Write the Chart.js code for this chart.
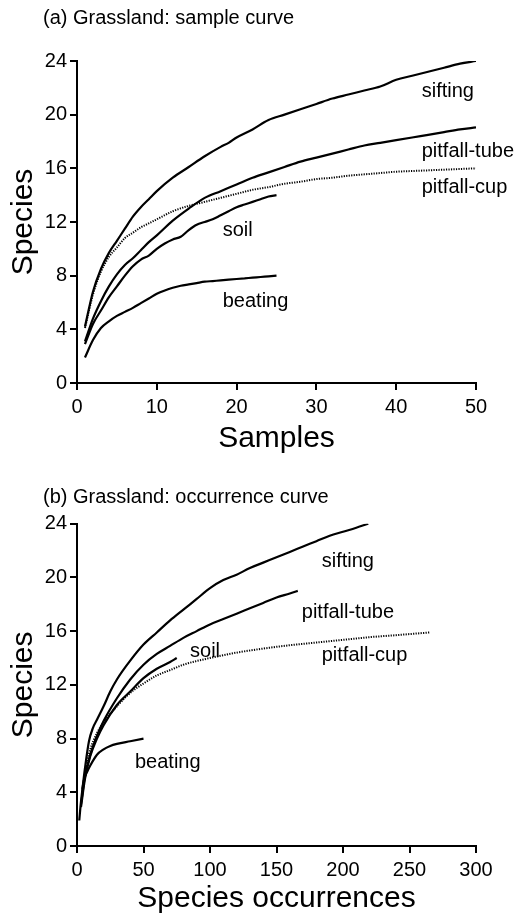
<!DOCTYPE html>
<html>
<head>
<meta charset="utf-8">
<script src="https://cdn.jsdelivr.net/npm/chart.js@4/dist/chart.umd.min.js"></script>
<style>
  html, body { margin: 0; padding: 0; background: #fff; }
  #wrap { position: relative; width: 521px; height: 917px; overflow: hidden; }
  .panel { position: absolute; left: 0; width: 521px; }
</style>
</head>
<body>
<div id="wrap">
  <div class="panel" style="top:0;height:458px;"><canvas id="c1" width="521" height="458"></canvas></div>
  <div class="panel" style="top:458px;height:459px;"><canvas id="c2" width="521" height="459"></canvas></div>
</div>
<script>
// ---------- DATA: (a) sample curve (x = samples, y = species) ----------
const sampleSifting = [[1,4.2],[2,6.8],[3,8.5],[4,9.7],[5,10.6],[6,11.5],[7,12.4],[8,13.1],[9,13.7],[10,14.3],[12,15.3],[14,16.1],[16,16.9],[18,17.6],[19,17.9],[20,18.3],[22,18.9],[24,19.6],[26,20.0],[28,20.4],[30,20.8],[32,21.2],[34,21.5],[36,21.8],[38,22.1],[40,22.6],[42,22.9],[44,23.2],[46,23.5],[48,23.8],[50,24.0]];
const samplePitfallTube = [[1,3.1],[2,4.8],[3,6.1],[4,7.2],[5,8.1],[6,8.8],[7,9.3],[8,9.9],[9,10.5],[10,11.0],[12,12.1],[14,13.0],[16,13.8],[18,14.3],[20,14.8],[22,15.3],[24,15.7],[26,16.1],[28,16.5],[30,16.8],[32,17.1],[34,17.4],[36,17.7],[38,17.9],[40,18.1],[42,18.3],[44,18.5],[46,18.7],[48,18.9],[50,19.05]];
const samplePitfallCup = [[1,4.1],[2,6.6],[3,8.3],[4,9.4],[5,10.1],[6,10.8],[7,11.2],[8,11.6],[9,11.9],[10,12.2],[12,12.8],[14,13.2],[16,13.5],[18,13.8],[20,14.1],[22,14.4],[24,14.6],[26,14.85],[28,15.0],[30,15.2],[32,15.3],[34,15.45],[36,15.55],[38,15.65],[40,15.75],[42,15.8],[44,15.85],[46,15.9],[48,15.95],[50,16.0]];
const sampleSoil = [[1,2.9],[2,4.4],[3,5.4],[4,6.4],[5,7.2],[6,8.0],[7,8.7],[8,9.2],[9,9.5],[10,10.0],[11,10.4],[12,10.7],[13,10.9],[14,11.4],[15,11.8],[16,12.0],[17,12.2],[18,12.5],[19,12.8],[20,13.1],[21,13.3],[22,13.5],[23,13.7],[24,13.9],[25,14.0]];
const sampleBeating = [[1,1.9],[2,3.2],[3,4.1],[4,4.6],[5,5.0],[6,5.3],[7,5.6],[8,5.95],[9,6.3],[10,6.65],[11,6.9],[12,7.1],[13,7.25],[14,7.35],[15,7.45],[16,7.55],[17,7.6],[18,7.65],[19,7.7],[20,7.75],[21,7.8],[22,7.85],[23,7.9],[24,7.95],[25,8.0]];

// ---------- DATA: (b) occurrence curve (x = species occurrences, y = species) ----------
const occSifting = [[4,4.2],[6,5.8],[9,7.8],[12,8.8],[15,9.4],[20,10.4],[25,11.5],[30,12.4],[40,13.8],[50,15.0],[60,15.9],[70,16.8],[80,17.6],[90,18.4],[100,19.2],[110,19.8],[120,20.2],[130,20.7],[140,21.1],[150,21.5],[160,21.9],[170,22.3],[180,22.7],[190,23.1],[200,23.4],[210,23.7],[219,24.0]];
const occPitfallTube = [[3,3.1],[6,5.2],[10,6.8],[15,8.2],[20,9.3],[30,11.0],[40,12.4],[50,13.5],[60,14.3],[70,14.9],[80,15.5],[90,16.0],[100,16.5],[110,16.9],[120,17.3],[130,17.7],[140,18.1],[150,18.5],[160,18.8],[166,19.0]];
const occPitfallCup = [[4,4.1],[7,6.0],[10,7.2],[15,8.4],[20,9.2],[30,10.4],[40,11.4],[50,12.1],[60,12.7],[70,13.1],[80,13.5],[100,14.0],[120,14.4],[140,14.7],[160,14.95],[180,15.15],[200,15.35],[220,15.55],[240,15.7],[265,15.9]];
const occSoil = [[3,2.9],[6,5.0],[10,6.7],[15,8.0],[20,9.0],[30,10.5],[40,11.5],[50,12.5],[60,13.2],[70,13.7],[75,14.0]];
const occBeating = [[1.7,1.9],[3,3.3],[5,4.8],[8,5.6],[10,6.0],[15,6.8],[20,7.2],[25,7.45],[30,7.6],[40,7.8],[50,8.0]];

// ---------- TEXT ----------
const seriesNames = ['sifting', 'pitfall-tube', 'pitfall-cup', 'soil', 'beating'];
const panelTitles = ['(a) Grassland: sample curve', '(b) Grassland: occurrence curve'];
const xTitles = ['Samples', 'Species occurrences'];
const yTitle = 'Species';
// label anchor positions in data units [x, y] (left / baseline of text)
const sampleLabelPos = [[43.2,21.33],[43.2,16.86],[43.2,14.18],[18.26,10.92],[18.26,5.69]];
const occLabelPos = [[184,20.74],[169,16.97],[184,13.81],[85,14.1],[43.6,5.79]];

const FONT = '"Liberation Sans", Arial, Helvetica, sans-serif';
Chart.defaults.font.family = FONT;
Chart.defaults.color = '#000';

function ds(label, pts, dotted) {
  return {
    label: label,
    data: pts.map(p => ({x: p[0], y: p[1]})),
    borderColor: '#000',
    backgroundColor: '#000',
    borderWidth: dotted ? 2 : 2.2,
    borderDash: dotted ? [1.2, 1.3] : [],
    pointRadius: 0,
    fill: false,
    cubicInterpolationMode: 'monotone'
  };
}

function labelPlugin(positions, title, titleY) {
  return {
    id: 'labels',
    afterDraw(chart) {
      const ctx = chart.ctx;
      const xs = chart.scales.x, ys = chart.scales.y;
      ctx.save();
      ctx.fillStyle = '#000';
      ctx.font = '20px ' + FONT;
      ctx.textAlign = 'left';
      ctx.textBaseline = 'alphabetic';
      positions.forEach((p, i) => {
        ctx.fillText(seriesNames[i], xs.getPixelForValue(p[0]), ys.getPixelForValue(p[1]));
      });
      ctx.fillText(title, 43, titleY);
      ctx.restore();
    }
  };
}

function makeChart(id, sets, xmax, xstep, xTitle, padTop, xAxisH, xTitlePadBottom, labels, title, titleY) {
  return new Chart(document.getElementById(id), {
    type: 'line',
    data: { datasets: sets },
    options: {
      responsive: false,
      animation: false,
      events: [],
      layout: { padding: { top: padTop, right: 45, bottom: 0, left: 0 } },
      plugins: { legend: { display: false }, tooltip: { enabled: false }, title: { display: false } },
      scales: {
        x: {
          type: 'linear', min: 0, max: xmax,
          ticks: { stepSize: xstep, color: '#000', font: { size: 20 }, padding: 5, maxRotation: 0 },
          grid: { display: true, drawOnChartArea: false, drawTicks: true, tickLength: 7, color: '#000', lineWidth: 2 },
          border: { display: true, color: '#000', width: 2 },
          title: { display: true, text: xTitle, color: '#000', font: { size: 30 }, padding: { top: 0, bottom: xTitlePadBottom } },
          afterFit(s) { s.height = xAxisH; }
        },
        y: {
          type: 'linear', min: 0, max: 24,
          ticks: { stepSize: 4, color: '#000', font: { size: 20 }, padding: 3 },
          grid: { display: true, drawOnChartArea: false, drawTicks: true, tickLength: 7, color: '#000', lineWidth: 2 },
          border: { display: true, color: '#000', width: 2 },
          title: { display: true, text: yTitle, color: '#000', font: { size: 30 }, padding: { top: 6, bottom: 0 } },
          afterFit(s) { s.width = 77; }
        }
      }
    },
    plugins: [labelPlugin(labels, title, titleY)]
  });
}

makeChart('c1', [
  ds(seriesNames[0], sampleSifting, false),
  ds(seriesNames[1], samplePitfallTube, false),
  ds(seriesNames[2], samplePitfallCup, true),
  ds(seriesNames[3], sampleSoil, false),
  ds(seriesNames[4], sampleBeating, false)
], 50, 10, xTitles[0], 61, 75, 1.3, sampleLabelPos, panelTitles[0], 24);

makeChart('c2', [
  ds(seriesNames[0], occSifting, false),
  ds(seriesNames[1], occPitfallTube, false),
  ds(seriesNames[2], occPitfallCup, true),
  ds(seriesNames[3], occSoil, false),
  ds(seriesNames[4], occBeating, false)
], 300, 50, xTitles[1], 65.7, 71, 0, occLabelPos, panelTitles[1], 45.3);
</script>
</body>
</html>
